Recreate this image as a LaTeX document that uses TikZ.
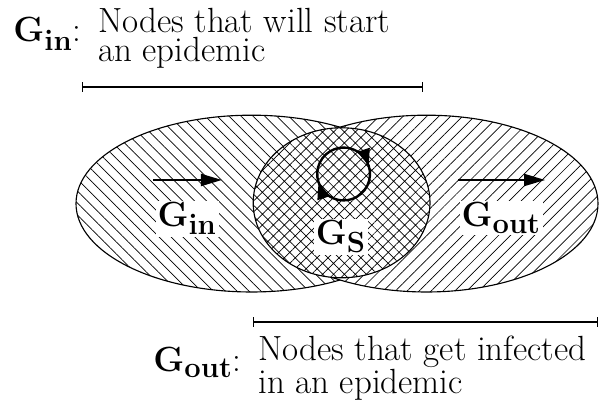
\documentclass[tikz,border=0pt]{standalone}
\usepackage{amsmath}
\usepackage{tikz}
\usetikzlibrary{arrows.meta,patterns.meta,positioning}

\begin{document}
\begin{tikzpicture}[
  setline/.style={draw, line width=0.8pt, preaction={fill=white}},
  lbl/.style={fill=white, inner sep=1.5pt, font=\Huge, anchor=base},
  setname/.style={inner sep=0pt, font=\Huge, anchor=base west},
  desc/.style={inner sep=0pt, font=\fontsize{24.88}{20.8}\selectfont, align=left, anchor=north west},
  arr/.style={-{Triangle[length=15pt, width=8.5pt]}, line width=1.6pt},
  circarr/.style={-{Triangle[length=12pt, width=9pt]}, line width=1.7pt},
  spanbar/.style={{Bar[width=7pt]}-{Bar[width=7pt]}, line width=0.9pt}
]
\useasboundingbox (0,0) rectangle (15,10);
% sets
\draw[setline, pattern={Lines[angle=-45, distance=6pt, line width=0.5pt]}] (6.29,4.91) ellipse [x radius=4.39, y radius=2.21];
\draw[setline, pattern={Lines[angle=45, distance=6pt, line width=0.5pt]}] (10.66,4.91) ellipse [x radius=4.29, y radius=2.21];
\draw[setline, pattern={Hatch[angle=45, distance=5.5pt, line width=0.5pt]}] (8.54,4.93) ellipse [x radius=2.21, y radius=1.875];
% labels
\node[lbl] (lin) at (4.68,4.33) {$\mathbf{G_{in}}$};
\node[lbl] (ls) at (8.52,3.88) {$\mathbf{G_S}$};
\node[lbl] (lout) at (12.53,4.33) {$\mathbf{G_{out}}$};
% flow arrows
\coordinate (ina) at (3.83,5.5);
\coordinate (inb) at (5.55,5.5);
\coordinate (outa) at (11.45,5.5);
\coordinate (outb) at (13.63,5.5);
\draw[arr] (ina) -- (inb);
\draw[arr] (outa) -- (outb);
\coordinate (cyc) at (8.59,5.65);
\draw[circarr] ([shift={(210:0.66)}]cyc) arc[start angle=210, end angle=18, radius=0.66];
\draw[circarr] ([shift={(30:0.66)}]cyc) arc[start angle=30, end angle=-162, radius=0.66];
% ranges
\coordinate (ta) at (2.05,7.825);
\coordinate (tb) at (10.58,7.825);
\draw[spanbar] (ta) -- (tb);
\coordinate (ba) at (6.33,1.95);
\coordinate (bb) at (14.96,1.95);
\draw[spanbar] (ba) -- (bb);
% legend
\node[setname] (kin) at (0.33,8.95) {$\mathbf{G_{in}}$:};
\node[desc] (din) at (2.45,9.8) {Nodes that will start\\an epidemic};
\node[setname] (kout) at (3.83,0.72) {$\mathbf{G_{out}}$:};
\node[desc] (dout) at (6.45,1.6) {Nodes that get infected\\in an epidemic};
\end{tikzpicture}
\end{document}
